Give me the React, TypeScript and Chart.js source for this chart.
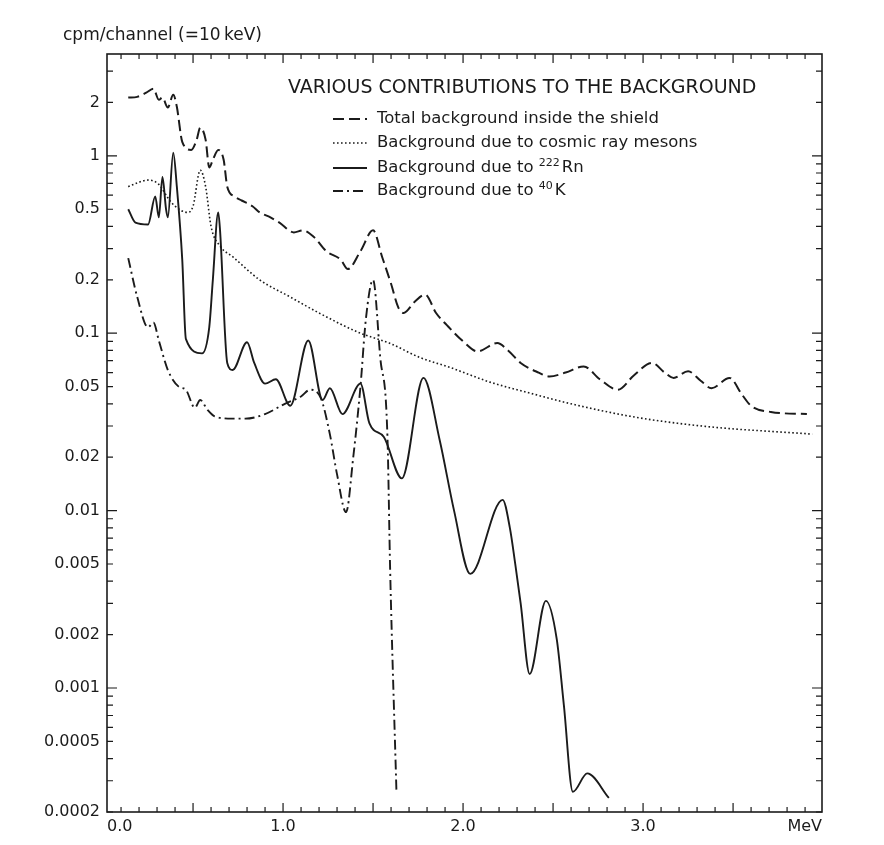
import React, { useEffect, useRef } from 'react';
import { Chart, registerables } from 'chart.js';

Chart.register(...registerables);

const INK = '#1b1b1b';
const FONT = '"DejaVu Sans", "Liberation Sans", Arial, sans-serif';

// ---- data (MeV, cpm/channel) ----
const TOTAL_X = [0.14, 0.19, 0.24, 0.28, 0.31, 0.33, 0.36, 0.39, 0.41, 0.44, 0.49, 0.52, 0.54, 0.57, 0.59, 0.61, 0.64, 0.67, 0.69, 0.73, 0.77, 0.83, 0.87, 0.93, 0.98, 1.06, 1.11, 1.17, 1.24, 1.32, 1.36, 1.43, 1.5, 1.55, 1.6, 1.64, 1.67, 1.73, 1.79, 1.85, 1.91, 2.0, 2.08, 2.19, 2.25, 2.32, 2.42, 2.48, 2.57, 2.67, 2.76, 2.86, 2.95, 3.05, 3.12, 3.17, 3.25, 3.32, 3.38, 3.48, 3.55, 3.6, 3.71, 3.91];
const TOTAL_Y = [2.13, 2.15, 2.27, 2.39, 2.07, 2.13, 1.87, 2.21, 1.89, 1.2, 1.08, 1.23, 1.44, 1.23, 0.86, 0.95, 1.08, 0.95, 0.67, 0.59, 0.56, 0.52, 0.48, 0.45, 0.42, 0.37, 0.38, 0.35, 0.29, 0.26, 0.23, 0.29, 0.38, 0.27, 0.19, 0.14, 0.13, 0.15, 0.165, 0.13, 0.111, 0.09, 0.079, 0.088, 0.08, 0.068, 0.06, 0.057, 0.06, 0.065, 0.055, 0.048, 0.058, 0.068, 0.06, 0.056, 0.061, 0.054, 0.049, 0.056, 0.045, 0.039, 0.036, 0.035];

const COSMIC_X = [0.14, 0.2, 0.25, 0.31, 0.36, 0.4, 0.47, 0.5, 0.54, 0.57, 0.6, 0.65, 0.72, 0.87, 1.04, 1.2, 1.43, 1.59, 1.76, 1.93, 2.15, 2.37, 2.6, 2.93, 3.2, 3.48, 3.7, 3.94];
const COSMIC_Y = [0.67, 0.71, 0.73, 0.69, 0.58, 0.52, 0.48, 0.52, 0.83, 0.67, 0.4, 0.31, 0.27, 0.2, 0.16, 0.13, 0.1, 0.088, 0.073, 0.064, 0.053, 0.046, 0.04, 0.034, 0.031, 0.029, 0.028, 0.027];

const RN_X = [0.14, 0.18, 0.25, 0.29, 0.31, 0.33, 0.35, 0.36, 0.39, 0.41, 0.44, 0.46, 0.55, 0.59, 0.61, 0.64, 0.65, 0.69, 0.72, 0.8, 0.84, 0.9, 0.96, 1.04, 1.14, 1.22, 1.26, 1.33, 1.43, 1.48, 1.56, 1.66, 1.78, 1.87, 1.95, 2.04, 2.22, 2.26, 2.29, 2.32, 2.37, 2.46, 2.52, 2.56, 2.61, 2.69, 2.81];
const RN_Y = [0.5, 0.42, 0.41, 0.59, 0.45, 0.76, 0.5, 0.45, 1.04, 0.67, 0.26, 0.093, 0.077, 0.108, 0.2, 0.48, 0.38, 0.068, 0.062, 0.089, 0.068, 0.052, 0.055, 0.039, 0.091, 0.042, 0.049, 0.035, 0.052, 0.031, 0.026, 0.0152, 0.056, 0.025, 0.01, 0.0044, 0.0115, 0.008, 0.005, 0.003, 0.0012, 0.0031, 0.0019, 0.0008, 0.00026, 0.00033, 0.00024];

const K_X = [0.14, 0.19, 0.25, 0.28, 0.31, 0.36, 0.42, 0.46, 0.51, 0.54, 0.58, 0.62, 0.72, 0.79, 0.9, 1.01, 1.1, 1.15, 1.21, 1.26, 1.3, 1.35, 1.39, 1.43, 1.46, 1.5, 1.54, 1.58, 1.595, 1.63];
const K_Y = [0.265, 0.16, 0.108, 0.115, 0.091, 0.062, 0.05, 0.048, 0.038, 0.042, 0.037, 0.034, 0.033, 0.033, 0.035, 0.04, 0.044, 0.048, 0.043, 0.027, 0.016, 0.0098, 0.02, 0.05, 0.12, 0.2, 0.073, 0.026, 0.0046, 0.00026];

// ---- axes ----
const X_MIN = 0.022;
const X_MAX = 3.994;
const X_LABEL_VALUES = [X_MIN, 1, 2, 3, X_MAX];
const X_LABELS = ['0.0', '1.0', '2.0', '3.0', 'MeV'];
const X_MINOR_STEP = 0.1;
const X_MINOR_COUNT = 39;
const Y_MIN = 0.0002;
const Y_MAX = 3.75;
const Y_LABEL_VALUES = [2, 1, 0.5, 0.2, 0.1, 0.05, 0.02, 0.01, 0.005, 0.002, 0.001, 0.0005, 0.0002];
const Y_LABELS = ['2', '1', '0.5', '0.2', '0.1', '0.05', '0.02', '0.01', '0.005', '0.002', '0.001', '0.0005', '0.0002'];
const Y_MANTISSAS = [1, 2, 3, 4, 5, 6, 7, 8, 9];
const Y_DECADES = [-4, -3, -2, -1, 0];
const Y_TITLE = 'cpm/channel (=10\u2009keV)';

const LEGEND_TITLE = 'VARIOUS CONTRIBUTIONS TO THE BACKGROUND';
const SERIES = [
  { pre: 'Total background inside the shield', sup: '', post: '' },
  { pre: 'Background due to cosmic ray mesons', sup: '', post: '' },
  { pre: 'Background due to ', sup: '222', post: 'Rn' },
  { pre: 'Background due to ', sup: '40', post: 'K' },
];
const DASHES = [[11, 5], [1.6, 2.4], [], [10, 4, 2, 4]];
const WIDTHS = [2, 1.6, 1.9, 1.9];

const pts = (xs: number[], ys: number[]) => xs.map((x, i) => ({ x, y: ys[i] }));

const overlay = {
  id: 'overlay',
  afterDraw(chart: any) {
    const { ctx, chartArea: a, scales } = chart;
    const x = scales.x;
    const y = scales.y;
    ctx.save();
    ctx.strokeStyle = INK;
    ctx.setLineDash([]);
    ctx.lineWidth = 1.6;
    ctx.strokeRect(a.left, a.top, a.right - a.left, a.bottom - a.top);
    ctx.lineWidth = 1.2;
    ctx.beginPath();
    for (let i = 1; i <= X_MINOR_COUNT; i++) {
      const v = i * X_MINOR_STEP;
      const px = x.getPixelForValue(v);
      const len = i % 5 === 0 ? 9 : 5;
      ctx.moveTo(px, a.bottom);
      ctx.lineTo(px, a.bottom - len);
      ctx.moveTo(px, a.top);
      ctx.lineTo(px, a.top + len);
    }
    for (const e of Y_DECADES) {
      for (const k of Y_MANTISSAS) {
        const v = k * Math.pow(10, e);
        if (v < Y_MIN * 0.999 || v > Y_MAX) continue;
        const py = y.getPixelForValue(v);
        const len = k === 1 ? 10 : 6;
        ctx.moveTo(a.left, py);
        ctx.lineTo(a.left + len, py);
        ctx.moveTo(a.right, py);
        ctx.lineTo(a.right - len, py);
      }
    }
    ctx.stroke();

    ctx.fillStyle = INK;
    ctx.textBaseline = 'middle';
    ctx.textAlign = 'left';
    ctx.font = `17px ${FONT}`;
    ctx.fillText(Y_TITLE, 63, 36);

    // legend
    ctx.font = `19px ${FONT}`;
    ctx.fillText(LEGEND_TITLE, 288, 88);
    const rows = [119, 143, 168, 191];
    SERIES.forEach((s, i) => {
      const ry = rows[i];
      ctx.beginPath();
      ctx.lineWidth = WIDTHS[i];
      ctx.setLineDash(DASHES[i]);
      ctx.moveTo(333, ry);
      ctx.lineTo(367, ry);
      ctx.stroke();
      ctx.setLineDash([]);
      let tx = 377;
      ctx.font = `16.5px ${FONT}`;
      ctx.fillText(s.pre, tx, ry);
      tx += ctx.measureText(s.pre).width;
      if (s.sup) {
        ctx.font = `11px ${FONT}`;
        ctx.fillText(s.sup, tx, ry - 5);
        tx += ctx.measureText(s.sup).width + 2;
        ctx.font = `16.5px ${FONT}`;
        ctx.fillText(s.post, tx, ry);
      }
    });
    ctx.restore();
  },
};

export default function App() {
  const ref = useRef<HTMLCanvasElement | null>(null);
  useEffect(() => {
    if (!ref.current) return;
    const mk = (i: number, xs: number[], ys: number[]) => ({
      label: SERIES[i].pre + SERIES[i].sup + SERIES[i].post,
      data: pts(xs, ys),
      borderColor: INK,
      borderWidth: WIDTHS[i],
      borderDash: DASHES[i],
      pointRadius: 0,
      fill: false,
      cubicInterpolationMode: 'monotone' as const,
    });
    const chart = new Chart(ref.current, {
      type: 'line',
      data: {
        datasets: [
          mk(0, TOTAL_X, TOTAL_Y),
          mk(1, COSMIC_X, COSMIC_Y),
          mk(2, RN_X, RN_Y),
          mk(3, K_X, K_Y),
        ],
      },
      options: {
        animation: false,
        responsive: false,
        events: [],
        layout: { padding: { left: 0, top: 54, right: 62, bottom: 0 } },
        plugins: { legend: { display: false }, tooltip: { enabled: false }, title: { display: false } },
        scales: {
          x: {
            type: 'linear',
            min: X_MIN,
            max: X_MAX,
            afterBuildTicks: (s: any) => { s.ticks = X_LABEL_VALUES.map((v) => ({ value: v })); },
            afterFit: (s: any) => { s.height = 33; },
            grid: { display: false, drawTicks: false },
            border: { display: false },
            ticks: {
              align: 'inner',
              autoSkip: false,
              maxRotation: 0,
              padding: 5,
              color: INK,
              font: { family: FONT, size: 16 },
              callback: (_v: any, i: number) => X_LABELS[i],
            },
          },
          y: {
            type: 'logarithmic',
            min: Y_MIN,
            max: Y_MAX,
            afterBuildTicks: (s: any) => { s.ticks = Y_LABEL_VALUES.map((v) => ({ value: v })); },
            afterFit: (s: any) => { s.width = 107; },
            grid: { display: false, drawTicks: false },
            border: { display: false },
            ticks: {
              autoSkip: false,
              padding: 7,
              color: INK,
              font: { family: FONT, size: 16 },
              callback: (_v: any, i: number) => Y_LABELS[i],
            },
          },
        },
      },
      plugins: [overlay],
    });
    return () => chart.destroy();
  }, []);
  return (
    <div style={{ position: 'fixed', left: 0, top: 0, width: 884, height: 845, background: '#fff' }}>
      <canvas ref={ref} width={884} height={845} style={{ display: 'block' }} />
    </div>
  );
}
